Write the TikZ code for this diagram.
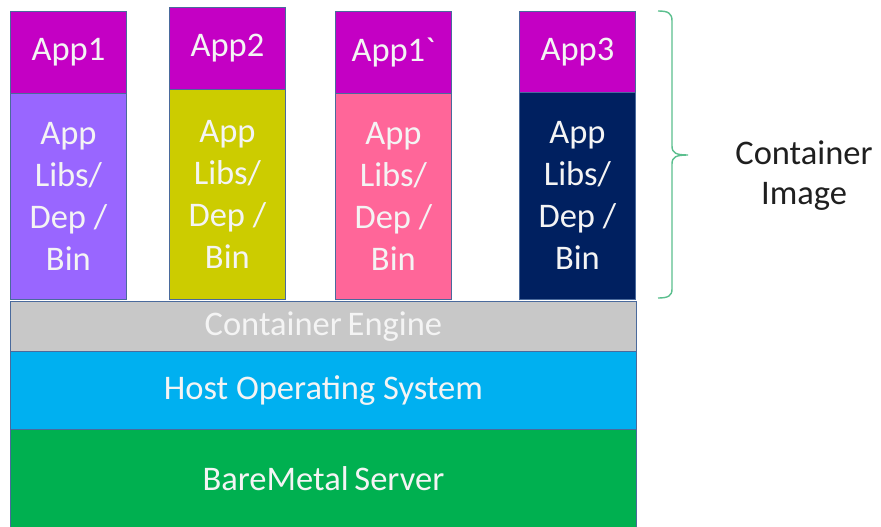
\documentclass[tikz,border=0pt]{standalone}
\usepackage{fontspec}
\setmainfont{Carlito}
\definecolor{apphead}{HTML}{C400C4}
\definecolor{violet}{HTML}{9966FF}
\definecolor{olive}{HTML}{CCCC00}
\definecolor{rose}{HTML}{FF6699}
\definecolor{navy}{HTML}{002060}
\definecolor{enginegray}{HTML}{C8C8C8}
\definecolor{hostblue}{HTML}{00B0F0}
\definecolor{metalgreen}{HTML}{00B050}
\definecolor{edge}{HTML}{4A6A9C}
\definecolor{bracegreen}{HTML}{5BBF8E}
\definecolor{lighttext}{HTML}{F4F4F4}
\newcommand{\gravemark}{{\addfontfeatures{Ligatures=TeXOff}`}}
\begin{document}
\begin{tikzpicture}[x=1pt,y=-1pt,
  block/.style={draw=edge, line width=0.8pt, anchor=north west, inner sep=0pt,
    align=center, text=lighttext, font=\fontsize{34.5}{42}\selectfont},
  head/.style={block, fill=apphead, minimum width=116, minimum height=#1},
  body/.style={block, minimum width=116, minimum height=#1},
  layer/.style={block, minimum width=626, minimum height=#1}]
\useasboundingbox (0,0) rectangle (881,527);

% application columns: name on top, libraries below
\node[body=206, fill=violet] (b1) at (10,93) {App\\Libs/\\Dep /\\Bin};
\node[head=82] (h1) at (10,11) {App1};
\node[body=210, fill=olive] (b2) at (169,89) {App\\Libs/\\Dep /\\Bin};
\node[head=82] (h2) at (169,7) {App2};
\node[body=206, fill=rose] (b3) at (335,93) {App\\Libs/\\Dep /\\Bin};
\node[head=82] (h3) at (335,11) {App1\gravemark};
\node[body=207, fill=navy] (b4) at (519,92) {App\\Libs/\\Dep /\\Bin};
\node[head=81] (h4) at (519,11) {App3};

% shared layers underneath
\node[layer=50, fill=enginegray] (eng) at (10,301) {Container\,Engine};
\node[layer=78, fill=hostblue] (host) at (10,351) {Host Operating System};
\node[layer=99, fill=metalgreen] (metal) at (10,429) {BareMetal\,Server};

% brace grouping the images
\coordinate (bt) at (658,11);
\coordinate (tip) at (688,155);
\coordinate (bb) at (658,298);
\draw[bracegreen, line width=1.4pt]
  (bt) .. controls (668,11) and (672,13) .. (672,21) -- (672,146)
  .. controls (672,153) and (676,155) .. (tip)
  .. controls (676,155) and (672,157) .. (672,164) -- (672,289)
  .. controls (672,296) and (668,298) .. (bb);
\node[align=center, text=black!88, font=\fontsize{34.5}{40}\selectfont] (lbl) at (804,176) {Container\\Image};
\end{tikzpicture}
\end{document}
